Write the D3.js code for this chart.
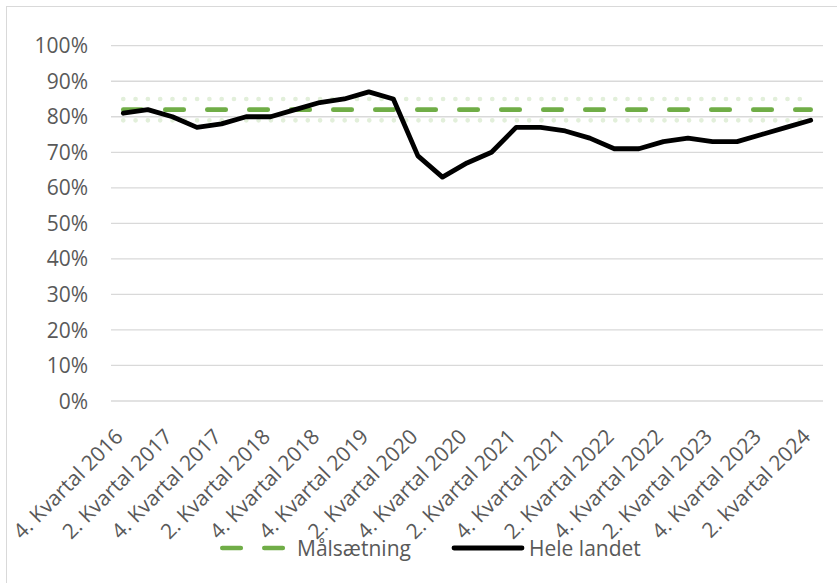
<!DOCTYPE html>
<html lang="da">
<head>
    <meta charset="UTF-8">
    <script src="https://d3js.org/d3.v7.min.js"></script>
    <title>Målsætning vs Hele landet</title>
    <style>
        body { margin: 0; background: #fff; }
        svg { display: block; font-family: "Open Sans", sans-serif; }

        .grid line {
        stroke: #d9d9d9;
        stroke-width: 1.3px;
        }

        .ylabel, .xlabel, .legend text {
        fill: #595959;
        font-size: 21px;
        }
    </style>
</head>
<body>
    <svg id="chart" width="837" height="583"></svg>

<script>

    // categories (every second one is labelled on the axis)
    var quarters = ["4. Kvartal 2016", "1. Kvartal 2017", "2. Kvartal 2017", "3. Kvartal 2017",
                    "4. Kvartal 2017", "1. Kvartal 2018", "2. Kvartal 2018", "3. Kvartal 2018",
                    "4. Kvartal 2018", "2. Kvartal 2019", "4. Kvartal 2019", "1. Kvartal 2020",
                    "2. Kvartal 2020", "3. Kvartal 2020", "4. Kvartal 2020", "1. Kvartal 2021",
                    "2. Kvartal 2021", "3. Kvartal 2021", "4. Kvartal 2021", "1. Kvartal 2022",
                    "2. Kvartal 2022", "3. Kvartal 2022", "4. Kvartal 2022", "1. Kvartal 2023",
                    "2. Kvartal 2023", "3. Kvartal 2023", "4. Kvartal 2023", "1. kvartal 2024",
                    "2. kvartal 2024"];

    // Hele landet (%)
    var heleLandet = [81, 82, 80, 77, 78, 80, 80, 82, 84, 85, 87, 85, 69, 63, 67, 70,
                      77, 77, 76, 74, 71, 71, 73, 74, 73, 73, 75, 77, 79];

    // Målsætning (%) and the band around it
    var maal = 82;
    var maalBand = [79, 85];

    var yTicks = [0, 10, 20, 30, 40, 50, 60, 70, 80, 90, 100];

    var svg = d3.select("#chart");

    // chart border (cut off at right/bottom as in the reference)
    svg.append("rect")
        .attr("x", 6.5).attr("y", 6.5)
        .attr("width", 860).attr("height", 620)
        .attr("fill", "none")
        .attr("stroke", "#d9d9d9");

    var x = d3.scaleBand()
        .domain(quarters)
        .range([111, 823])
        .padding(0);

    var y = d3.scaleLinear()
        .domain([0, 100])
        .range([401, 45.7]);

    var cx = d => x(d) + x.bandwidth() / 2;

    // gridlines
    svg.append("g").attr("class", "grid")
        .selectAll("line")
        .data(yTicks)
        .join("line")
        .attr("x1", 111).attr("x2", 823)
        .attr("y1", d => y(d)).attr("y2", d => y(d));

    // y labels
    svg.append("g")
        .selectAll("text")
        .data(yTicks)
        .join("text")
        .attr("class", "ylabel")
        .attr("x", 88)
        .attr("y", d => y(d))
        .attr("dy", "0.36em")
        .attr("text-anchor", "end")
        .text(d => d + "%");

    // x labels, every second category
    svg.append("g")
        .selectAll("text")
        .data(quarters.filter((d, i) => i % 2 === 0))
        .join("text")
        .attr("class", "xlabel")
        .attr("text-anchor", "end")
        .attr("transform", d => "translate(" + (cx(d) + 1) + ",438) rotate(-45)")
        .text(d => d);

    var first = quarters[0], last = quarters[quarters.length - 1];

    // dotted band
    svg.append("g")
        .selectAll("line")
        .data(maalBand)
        .join("line")
        .attr("x1", cx(first)).attr("x2", cx(last))
        .attr("y1", d => y(d)).attr("y2", d => y(d))
        .attr("stroke", "#e2efda")
        .attr("stroke-width", 4.7)
        .attr("stroke-linecap", "round")
        .attr("stroke-dasharray", "0 12.3");

    // Målsætning dashed
    svg.append("line")
        .attr("x1", cx(first)).attr("x2", cx(last))
        .attr("y1", y(maal)).attr("y2", y(maal))
        .attr("stroke", "#70ad47")
        .attr("stroke-width", 4.6)
        .attr("stroke-linecap", "round")
        .attr("stroke-dasharray", "18.5 23.5");

    // Hele landet
    var line = d3.line()
        .x((d, i) => cx(quarters[i]))
        .y(d => y(d));

    svg.append("path")
        .datum(heleLandet)
        .attr("d", line)
        .attr("fill", "none")
        .attr("stroke", "#000")
        .attr("stroke-width", 4.8)
        .attr("stroke-linejoin", "round")
        .attr("stroke-linecap", "round");

    // legend
    var lg = svg.append("g").attr("class", "legend");
    var ly = 548;

    lg.append("line")
        .attr("x1", 222.3).attr("x2", 282.8)
        .attr("y1", ly).attr("y2", ly)
        .attr("stroke", "#70ad47")
        .attr("stroke-width", 4.6)
        .attr("stroke-linecap", "round")
        .attr("stroke-dasharray", "18.5 23.5");
    lg.append("text")
        .attr("x", 297).attr("y", ly).attr("dy", "0.36em")
        .text("Målsætning");

    lg.append("line")
        .attr("x1", 454).attr("x2", 522)
        .attr("y1", ly).attr("y2", ly)
        .attr("stroke", "#000")
        .attr("stroke-width", 4.8)
        .attr("stroke-linecap", "round");
    lg.append("text")
        .attr("x", 529).attr("y", ly).attr("dy", "0.36em")
        .text("Hele landet");

</script>
</body>
</html>
